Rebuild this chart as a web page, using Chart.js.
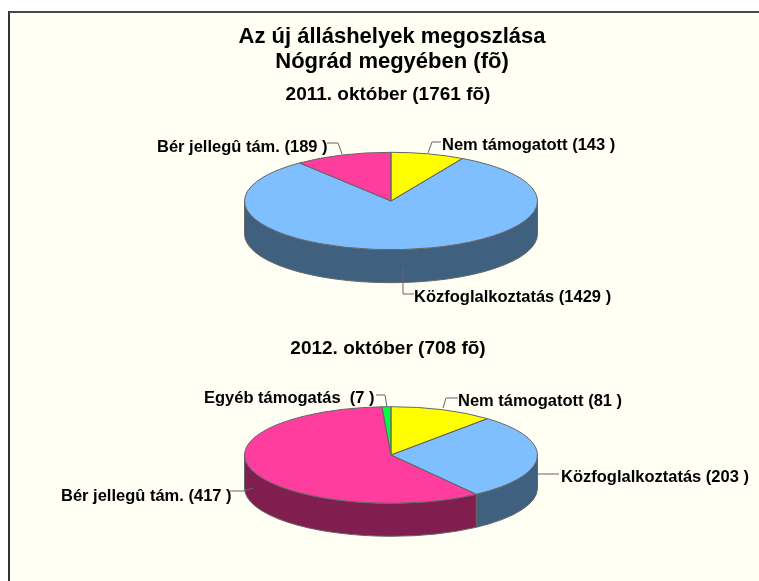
<!DOCTYPE html>
<html lang="hu">
<head>
<meta charset="utf-8">
<title>Az új álláshelyek megoszlása</title>
<script src="https://cdn.jsdelivr.net/npm/chart.js@4"></script>
<style>
html,body{margin:0;padding:0;background:#fff;overflow:hidden;width:759px;height:581px}
#frame{position:absolute;left:8px;top:11px;width:749px;height:568px;background:#FFFFF4;border-left:2px solid #333;border-top:2px solid #484848}
canvas{position:absolute;left:0;top:0}
</style>
</head>
<body>
<div id="frame"></div>
<canvas id="c1" width="759" height="581"></canvas>
<canvas id="c2" width="759" height="581"></canvas>
<script>
// --- data ---
const titleLines = ['Az új álláshelyek megoszlása', 'Nógrád megyében (fõ)'];
const head2011 = '2011. október (1761 fõ)';
const head2012 = '2012. október (708 fõ)';
const categories2011 = ['Nem támogatott', 'Közfoglalkoztatás', 'Bér jellegû tám.'];
const values2011 = [143, 1429, 189];
const categories2012 = ['Nem támogatott', 'Közfoglalkoztatás', 'Bér jellegû tám.', 'Egyéb támogatás '];
const values2012 = [81, 203, 417, 7];

// --- styles ---
const tops2011 = ['#FFFF00', '#80BFFF', '#FF3D9E'];
const sides2011 = ['#808000', '#40607F', '#801F4F'];
const tops2012 = ['#FFFF00', '#80BFFF', '#FF3D9E', '#00FF40'];
const sides2012 = ['#808000', '#40607F', '#801F4F', '#008020'];
const INK = '#000';
const EDGE = '#666';
const LABEL_FONT = 'bold 16.5px "Liberation Sans", Arial, sans-serif';
const HEAD_FONT = 'bold 19px "Liberation Sans", Arial, sans-serif';

// --- layout (page pixels) ---
const pie2011 = {x: 391, y: 201, ry: 48.7, depth: 33, radius: 146.5};
const pie2012 = {x: 391, y: 455, ry: 48.3, depth: 33, radius: 146.5};
const headPos2011 = {x: 388, y: 95};
const headPos2012 = {x: 388, y: 349};
const labelPos2011 = [{x: 442, y: 145}, {x: 414, y: 297}, {x: 157, y: 147}];
const labelPos2012 = [{x: 458, y: 401}, {x: 561, y: 477}, {x: 61, y: 496}, {x: 204, y: 398}];
const leaders2011 = [
  [[428, 153], [432, 142], [441, 142]],
  [[403, 267], [403, 294], [414, 294]],
  [[327, 143], [338, 143], [342, 154]]
];
const leaders2012 = [
  [[443, 408], [446, 398], [458, 398]],
  [[538, 474], [559, 474]],
  [[230, 491], [243, 491], [253, 488]],
  [[376, 395], [385, 395], [387, 407]]
];

function pie3d(cfg) {
  return {
    id: 'pie3d',
    beforeDatasetsDraw(chart) {
      const ctx = chart.ctx, arcs = chart.getDatasetMeta(0).data, p = cfg.pie;
      const rx = arcs[0].outerRadius;
      ctx.save();
      ctx.lineWidth = 1;
      ctx.strokeStyle = EDGE;
      arcs.forEach((a, i) => {
        const s = Math.max(a.startAngle, 0), e = Math.min(a.endAngle, Math.PI);
        if (e <= s) return;
        ctx.beginPath();
        ctx.ellipse(p.x, p.y, rx, p.ry, 0, s, e);
        ctx.ellipse(p.x, p.y + p.depth, rx, p.ry, 0, e, s, true);
        ctx.closePath();
        ctx.fillStyle = cfg.sides[i];
        ctx.fill();
        ctx.stroke();
      });
      ctx.restore();
      ctx.save();
      ctx.translate(p.x, p.y);
      ctx.scale(1, p.ry / rx);
      ctx.translate(-arcs[0].x, -arcs[0].y);
    },
    afterDatasetsDraw(chart) {
      const ctx = chart.ctx, arcs = chart.getDatasetMeta(0).data, p = cfg.pie;
      ctx.restore();
      const rx = arcs[0].outerRadius;
      ctx.save();
      ctx.lineWidth = 1;
      ctx.strokeStyle = EDGE;
      arcs.forEach(a => {
        ctx.beginPath();
        ctx.moveTo(p.x, p.y);
        ctx.ellipse(p.x, p.y, rx, p.ry, 0, a.startAngle, a.endAngle);
        ctx.closePath();
        ctx.stroke();
      });
      cfg.leaders.forEach(line => {
        ctx.beginPath();
        line.forEach(([x, y], i) => i ? ctx.lineTo(x, y) : ctx.moveTo(x, y));
        ctx.stroke();
      });
      ctx.fillStyle = INK;
      ctx.textBaseline = 'middle';
      ctx.textAlign = 'left';
      ctx.font = LABEL_FONT;
      cfg.categories.forEach((name, i) => {
        ctx.fillText(name + ' (' + cfg.values[i] + ' )', cfg.labelPos[i].x, cfg.labelPos[i].y);
      });
      ctx.font = HEAD_FONT;
      ctx.textAlign = 'center';
      ctx.fillText(cfg.head, cfg.headPos.x, cfg.headPos.y);
      ctx.restore();
    }
  };
}

function makePie(id, cfg, title) {
  return new Chart(document.getElementById(id), {
    type: 'pie',
    data: {
      labels: cfg.categories,
      datasets: [{data: cfg.values, backgroundColor: cfg.tops, borderWidth: 0, clip: false}]
    },
    options: {
      responsive: false,
      animation: false,
      events: [],
      radius: cfg.pie.radius,
      rotation: 0,
      layout: {padding: {right: title ? -25 : 0}},
      plugins: {
        legend: {display: false},
        tooltip: {enabled: false},
        title: title ? {
          display: true,
          text: title,
          color: INK,
          font: {family: '"Liberation Sans", Arial, sans-serif', size: 22, weight: 'bold', lineHeight: 1.136},
          padding: {top: 24, bottom: 0}
        } : {display: false}
      }
    },
    plugins: [pie3d(cfg)]
  });
}

makePie('c1', {
  categories: categories2011, values: values2011, tops: tops2011, sides: sides2011,
  pie: pie2011, labelPos: labelPos2011, leaders: leaders2011, head: head2011, headPos: headPos2011
}, titleLines);
makePie('c2', {
  categories: categories2012, values: values2012, tops: tops2012, sides: sides2012,
  pie: pie2012, labelPos: labelPos2012, leaders: leaders2012, head: head2012, headPos: headPos2012
}, null);
</script>
</body>
</html>
